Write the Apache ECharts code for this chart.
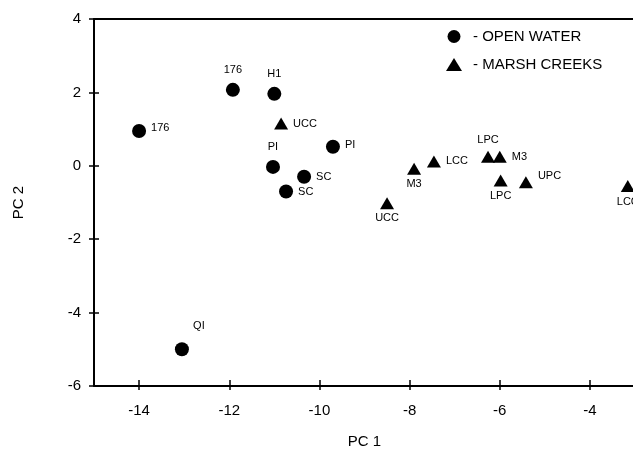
<!DOCTYPE html>
<html>
<head>
<meta charset="utf-8">
<script src="https://cdn.jsdelivr.net/npm/echarts@6/dist/echarts.min.js"></script>
<style>html,body{margin:0;padding:0;background:#fff}#c{width:633px;height:449px}</style>
</head>
<body>
<div id="c"></div>
<script>
// ---- data ----
const openX = [-14.0, -11.92, -11.0, -11.03, -10.34, -10.74, -9.7, -13.05];
const openY = [0.95, 2.07, 1.96, -0.03, -0.3, -0.7, 0.52, -5.0];
const openLabels = ['176', '176', 'H1', 'PI', 'SC', 'SC', 'PI', 'QI'];

const marshX = [-10.85, -8.5, -7.9, -7.46, -6.26, -6.0, -5.98, -5.42, -3.16];
const marshY = [1.15, -1.02, -0.08, 0.12, 0.25, 0.25, -0.4, -0.45, -0.55];
const marshLabels = ['UCC', 'UCC', 'M3', 'LCC', 'LPC', 'M3', 'LPC', 'UPC', 'LCC'];

const xTicks = [-14, -12, -10, -8, -6, -4];
const yTicks = [-6, -4, -2, 0, 2, 4];
const seriesNames = ['OPEN WATER', 'MARSH CREEKS'];

// ---- label placement (style, kept separate) ----
const openPlace = [
  {position:'right', offset:[0,-3]}, {position:'top', offset:[0,-2]}, {position:'top', offset:[0,-2]},
  {position:'top', offset:[0,-2]}, {position:'right'}, {position:'right'}, {position:'right', offset:[0,-2]},
  {position:'top', offset:[17,-6]}
];
const marshPlace = [
  {position:'right'}, {position:'bottom', offset:[0,-2]}, {position:'bottom', offset:[0,-1]}, {position:'right'},
  {position:'top', offset:[0,0]}, {position:'right'}, {position:'bottom', offset:[0,-1]},
  {position:'right', offset:[0,-6]}, {position:'bottom', offset:[0,-1]}
];

const FONT = '"Liberation Sans", Arial, sans-serif';
const LBL = {show:true, color:'#000', fontSize:11, fontFamily:FONT, distance:5};

function build(xs, ys, labels, place) {
  return xs.map((x, i) => ({
    value: [x, ys[i]],
    name: labels[i],
    label: Object.assign({}, LBL, {formatter: labels[i]}, place[i])
  }));
}

const chart = echarts.init(document.getElementById('c'), null, {renderer:'canvas'});

chart.setOption({
  backgroundColor:'#fff',
  animation:false,
  grid:{left:94, top:19, width:541, height:367, containLabel:false, outerBoundsMode:'none'},
  legend:{
    orient:'vertical', left:441, top:24, itemWidth:16, itemHeight:13, itemGap:13,
    textStyle:{color:'#000', fontSize:15, fontFamily:FONT, padding:[0,0,0,6]},
    formatter: n => '- ' + n,
    data:[{name:seriesNames[0], icon:'circle'}, {name:seriesNames[1], icon:'triangle'}]
  },
  xAxis:[
    {type:'value', min:-15, max:-3, interval:1, position:'bottom',
     name:'PC 1', nameLocation:'middle', nameGap:48,
     nameTextStyle:{color:'#000', fontSize:15, fontFamily:FONT},
     axisLine:{show:true, onZero:false, lineStyle:{color:'#000', width:2}},
     axisTick:{show:true, inside:false, length:4, lineStyle:{color:'#000', width:1.5},
       customValues: xTicks},
     axisLabel:{color:'#000', fontSize:15, fontFamily:FONT, margin:17, customValues: xTicks},
     splitLine:{show:false}},
    {type:'value', min:-15, max:-3, interval:1, position:'bottom', gridIndex:0,
     axisLine:{show:false, onZero:false},
     axisTick:{show:true, inside:true, length:6, lineStyle:{color:'#000', width:1.5}, customValues: xTicks},
     axisLabel:{show:false}, splitLine:{show:false}},
    {type:'value', min:-15, max:-3, position:'top', gridIndex:0,
     axisLine:{show:true, onZero:false, lineStyle:{color:'#000', width:2}},
     axisTick:{show:false}, axisLabel:{show:false}, splitLine:{show:false}}
  ],
  yAxis:[
    {type:'value', min:-6, max:4, interval:2, position:'left',
     name:'PC 2', nameLocation:'middle', nameGap:68, nameRotate:90,
     nameTextStyle:{color:'#000', fontSize:15, fontFamily:FONT},
     axisLine:{show:true, onZero:false, lineStyle:{color:'#000', width:2}},
     axisTick:{show:true, inside:false, length:5, lineStyle:{color:'#000', width:1.5}},
     axisLabel:{color:'#000', fontSize:15, fontFamily:FONT, margin:13},
     splitLine:{show:false}},
    {type:'value', min:-6, max:4, interval:2, position:'left',
     axisLine:{show:false, onZero:false},
     axisTick:{show:true, inside:true, length:5, lineStyle:{color:'#000', width:1.5}},
     axisLabel:{show:false}, splitLine:{show:false}}
  ],
  series:[
    {name:seriesNames[0], type:'scatter', xAxisIndex:0, yAxisIndex:0,
     symbol:'circle', symbolSize:14, itemStyle:{color:'#000', opacity:1},
     label:LBL,
     data: build(openX, openY, openLabels, openPlace)},
    {name:seriesNames[1], type:'scatter', xAxisIndex:0, yAxisIndex:0,
     symbol:'triangle', symbolSize:[14,12], itemStyle:{color:'#000', opacity:1},
     label:LBL,
     data: build(marshX, marshY, marshLabels, marshPlace)}
  ]
});
</script>
</body>
</html>
